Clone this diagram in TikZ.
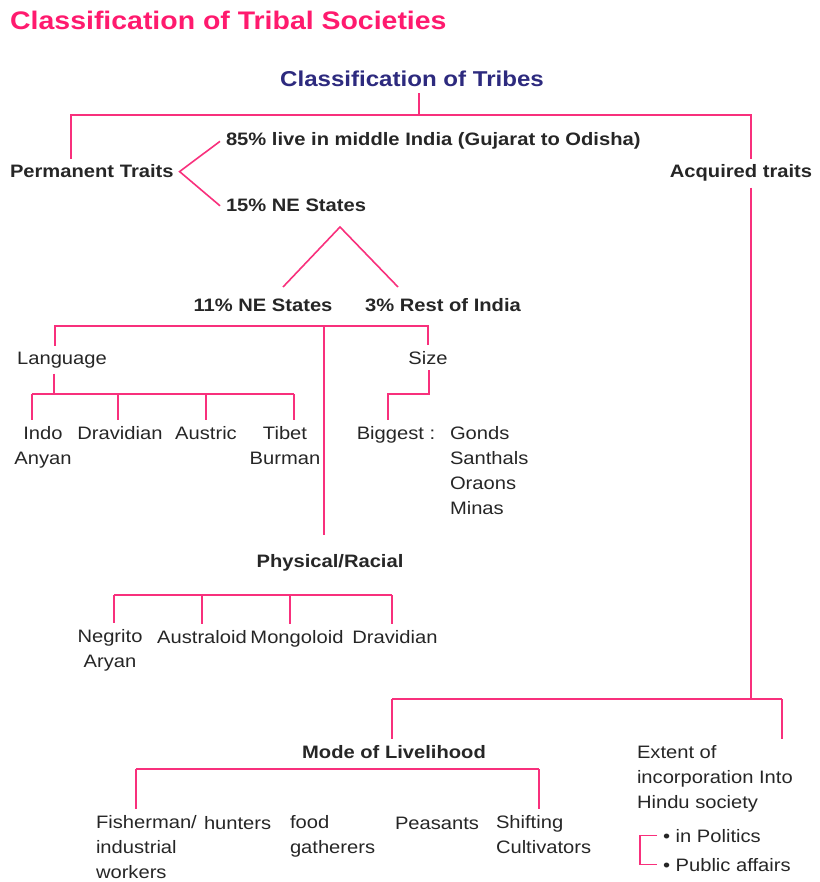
\documentclass[tikz,border=0pt]{standalone}
\usepackage{fontspec}
\setmainfont{Liberation Sans}[FakeStretch=1.12]
\definecolor{pinkline}{HTML}{F8307C}
\definecolor{titlepink}{HTML}{FF1A6E}
\definecolor{navy}{HTML}{2D2A7E}
\definecolor{textgray}{HTML}{262626}
\tikzset{
  txt/.style={inner sep=0,outer sep=6pt,text=textgray,font=\fontsize{18}{25}\selectfont},
  bold/.style={txt,font=\fontsize{18}{25}\selectfont\bfseries},
  link/.style={draw=pinkline,line width=1.6pt},
}

\begin{document}
\begin{tikzpicture}[x=1pt,y=-1pt]
  \useasboundingbox (0,0) rectangle (819,882);
  \node[anchor=base west,inner sep=0,text=titlepink,font=\fontsize{25.4}{30}\selectfont\bfseries] (title) at (10,30) {Classification of Tribal Societies};
  \node[txt,anchor=base,text=navy,font=\fontsize{21.5}{26}\selectfont\bfseries] (tribes) at (412,87) {Classification of Tribes};
  % first split
  \node[bold,anchor=base west] (perm) at (4,178) {Permanent Traits};
  \node[bold,anchor=base] (acq) at (741,178) {Acquired traits};
  \coordinate (top) at (419,115);
  \coordinate (permtop) at (71,155);
  \coordinate (acqtop) at (751,155);
  \draw[link] (tribes.south -| top) -- (top);
  \draw[link] (perm.north -| permtop) |- (top) -| (acq.north -| acqtop);
  % 85 / 15
  \node[bold,anchor=base west] (p85) at (220,146) {85\% live in middle India (Gujarat to Odisha)};
  \node[bold,anchor=base west] (p15) at (220,212) {15\% NE States};
  \draw[link] (p85.west) -- (perm.east) -- (p15.west);
  % 11 / 3
  \node[bold,anchor=base] (ne11) at (263,311) {11\% NE States};
  \node[bold,anchor=base] (rest3) at (443,311) {3\% Rest of India};
  \coordinate (split) at (340,227);
  \coordinate (v1) at (283,287);
  \coordinate (v2) at (398,287);
  \draw[link] (v1) -- (split) -- (v2);
  % language, size, physical
  \node[txt,anchor=base] (lang) at (62,364) {Language};
  \node[txt,anchor=base] (size) at (428,364) {Size};
  \node[bold,anchor=base] (phys) at (330,567) {Physical/Racial};
  \coordinate (mid) at (324,326);
  \coordinate (langtop) at (55,347);
  \draw[link] (lang.north -| langtop) |- (mid) -| (size.north);
  \draw[link] (mid) -- ([yshift=13pt]phys.north -| mid);
  % language groups (base = last line)
  \node[txt,anchor=base,align=center] (indo) at (43,464) {Indo\\Anyan};
  \node[txt,anchor=base] (dravl) at (120,439) {Dravidian};
  \node[txt,anchor=base] (austric) at (206,439) {Austric};
  \node[txt,anchor=base,align=center] (tibet) at (285,464) {Tibet\\Burman};
  \coordinate (lb) at (54,394);
  \coordinate (l1) at (32,394);
  \coordinate (l2) at (118,394);
  \coordinate (l3) at (206,394);
  \coordinate (l4) at (294,394);
  \draw[link] (lang.south -| lb) -- (lb);
  \draw[link] (l1) -- (l4);
  \foreach \c/\n in {l1/indo,l2/dravl,l3/austric,l4/tibet}
    \draw[link] (\c) -- (\c |- \n.north);
  % size
  \node[txt,anchor=base] (big) at (396,439) {Biggest :};
  \node[txt,anchor=base west,align=left] (gonds) at (444,514) {Gonds\\Santhals\\Oraons\\Minas};
  \coordinate (sb) at (429,394);
  \coordinate (sb2) at (388,394);
  \draw[link] (size.south -| sb) -- (sb) -- (sb2) -- (sb2 |- big.north);
  % racial groups
  \node[txt,anchor=base,align=center] (negrito) at (110,667) {Negrito\\Aryan};
  \node[txt,anchor=base] (austra) at (202,643) {Australoid};
  \node[txt,anchor=base] (mongo) at (297,643) {Mongoloid};
  \node[txt,anchor=base] (dravp) at (395,643) {Dravidian};
  \coordinate (r1) at (114,595);
  \coordinate (r2) at (202,595);
  \coordinate (r3) at (290,595);
  \coordinate (r4) at (392,595);
  \draw[link] (r1) -- (r4);
  \foreach \c/\n in {r1/negrito,r2/austra,r3/mongo,r4/dravp}
    \draw[link] (\c) -- (\c |- \n.north);
  % acquired traits
  \node[bold,anchor=base] (mode) at (394,758) {Mode of Livelihood};
  \node[txt,anchor=base west,align=left] (ext) at (631,808) {Extent of\\incorporation Into\\Hindu society};
  \coordinate (ab) at (751,699);
  \coordinate (a1) at (392,699);
  \coordinate (a2) at (782,699);
  \draw[link] (acq.south -| ab) -- (ab);
  \draw[link] (a1) -- (a2);
  \draw[link] (a1) -- (a1 |- mode.north);
  \draw[link] (a2) -- (a2 |- ext.north);
  % livelihood
  \node[txt,anchor=base west,align=left] (fish) at (90,878) {Fisherman/\\industrial\\workers};
  \node[txt,anchor=base west] (hunt) at (198,829) {hunters};
  \node[txt,anchor=base west,align=left] (food) at (284,853) {food\\gatherers};
  \node[txt,anchor=base west] (peas) at (389,829) {Peasants};
  \node[txt,anchor=base west,align=left] (shift) at (490,853) {Shifting\\Cultivators};
  \coordinate (m1) at (136,769);
  \coordinate (m2) at (539,769);
  \draw[link] (m1) -- (m2);
  \draw[link] (m1) -- (m1 |- fish.north);
  \draw[link] (m2) -- (m2 |- shift.north);
  % incorporation
  \node[txt,anchor=base west] (pol) at (657,842) {• in Politics};
  \node[txt,anchor=base west] (pub) at (657,871) {• Public affairs};
  \draw[link] (pol.west) -- ++(-17,0) |- (pub.west);
\end{tikzpicture}
\end{document}
